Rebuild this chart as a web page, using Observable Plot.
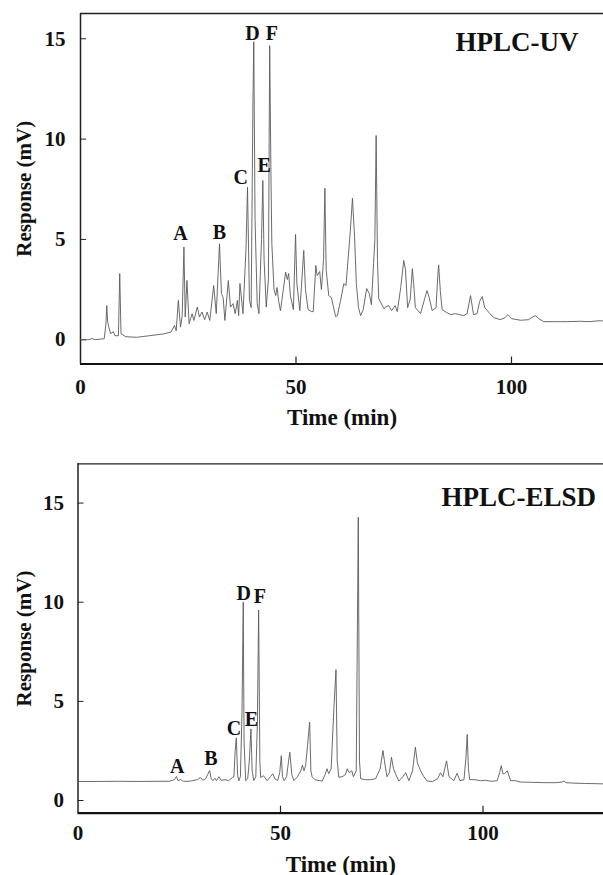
<!DOCTYPE html>
<html>
<head>
<meta charset="utf-8">
<script src="https://cdn.jsdelivr.net/npm/d3@7"></script>
<script src="https://cdn.jsdelivr.net/npm/@observablehq/plot@0.6"></script>
<style>
  html, body { margin: 0; padding: 0; background: white; }
  #chart svg { display: block; }
</style>
</head>
<body>
<div id="chart"></div>
<script>
// ---------- data ----------
const uvTime = [0,2,2.7,3.4,5.5,5.9,6.1,6.3,6.6,7.0,7.6,8.0,8.8,9.1,9.4,10.5,13,16,19.3,21.0,21.8,22.2,22.7,23.2,23.6,24.0,24.3,24.7,25.2,25.9,26.3,27.1,27.6,28.2,28.8,29.4,30.0,30.9,31.5,32.25,32.7,33.1,33.5,34.3,34.8,35.4,35.9,36.4,36.7,37.0,37.7,38.4,38.75,39.2,39.6,40.0,40.2,40.5,41.0,41.4,42.0,42.3,42.6,43.1,43.6,43.9,44.2,44.4,44.9,45.3,45.6,46.0,46.4,47.6,48.0,48.3,48.7,49.4,49.9,50.2,50.9,51.8,52.2,52.8,53.6,54.0,54.6,54.9,55.5,55.9,56.4,56.7,57.0,57.6,58.2,59.2,59.6,60.3,61.1,61.6,62.6,63.1,63.6,64.0,64.5,65.0,65.6,66.4,67.0,67.5,68.0,68.3,68.6,68.9,69.2,70.4,70.9,71.5,72.2,73.0,73.5,74.3,75.0,75.4,75.9,76.5,77.0,77.3,77.7,78.9,79.8,80.4,80.9,81.6,82.5,82.9,83.1,83.5,83.9,85.0,85.9,87.0,88.0,88.9,89.7,90.5,91.2,92.0,92.6,93.2,93.8,94.4,95.0,95.9,97.4,98.5,99.2,100.0,102.1,104.0,105.0,105.6,106.3,107.5,110,113,116,118,120.6,121.35];
const uvResp = [0,0,0.06,0,0.05,0.8,1.7,0.9,0.6,0.3,0.4,0.2,0.2,3.3,0.3,0.15,0.12,0.2,0.29,0.38,0.71,0.45,1.96,0.63,1.2,4.62,1.13,2.95,0.8,1.3,0.96,1.63,1.13,1.38,1.0,1.38,0.96,2.7,1.3,4.78,2.3,2.1,0.96,2.95,1.63,1.8,1.3,1.96,1.2,2.8,1.3,4.53,7.6,1.97,1.6,11.6,14.85,6.0,1.8,1.3,5.0,7.94,3.95,1.63,3.0,14.66,8.0,4.78,2.5,2.2,2.6,1.9,1.45,3.37,3.0,3.3,2.2,1.5,5.25,2.8,1.45,4.45,2.5,1.5,1.4,1.4,3.7,3.2,3.4,2.5,4.0,7.55,3.5,2.2,2.1,1.15,1.2,1.9,2.8,2.7,5.4,7.05,5.1,2.8,1.6,1.2,1.5,2.55,2.3,1.75,3.8,5.0,10.18,4.0,2.05,1.55,1.65,1.7,1.45,1.7,1.4,2.6,3.95,3.5,1.6,2.0,3.54,2.8,1.6,1.3,2.0,2.45,2.1,1.45,1.6,3.2,3.73,2.4,1.5,1.35,1.25,1.3,1.25,1.2,1.3,2.2,1.25,1.3,1.9,2.15,1.6,1.45,1.3,1.1,1.0,1.1,1.25,1.05,0.97,1.0,1.15,1.2,1.05,0.9,0.9,0.9,0.92,0.9,0.95,0.92];

const elsdTime = [0,5,10,15,20,22.5,23.8,24.3,24.7,25.3,26,27.5,29.5,30.2,30.8,31.5,32.0,32.5,32.9,33.3,33.8,34.2,34.8,35.3,36.3,37.2,38.1,38.5,38.8,39.1,39.4,39.7,40.1,40.5,40.8,41.0,41.4,41.9,42.3,42.7,43.0,43.4,43.9,44.3,44.6,44.9,45.1,45.8,46.7,47.5,48.1,48.6,49.3,49.8,50.2,50.5,50.9,51.5,52.0,52.3,52.8,53.3,54.2,55.0,55.4,55.8,56.2,56.7,57.2,57.5,57.8,58.5,59.5,60.3,61.0,61.5,61.9,62.5,63.2,63.7,64.0,64.4,65.2,66.0,66.5,67.0,67.6,68.0,68.7,69.2,69.5,69.8,71.0,72.2,73.5,74.6,75.3,75.8,76.3,76.9,77.4,77.9,78.5,79.2,80.2,80.9,81.7,82.6,83.3,83.8,84.6,85.4,86.2,87.5,88.8,89.5,90.1,91.0,91.6,92.8,93.6,94.3,95.3,95.8,96.1,96.4,96.7,98.0,99.4,100.6,102.0,103.5,104.1,104.5,104.9,105.3,106.0,106.8,108,109.3,112,115,118,119.5,120.0,120.5,122,125,129.75];
const elsdResp = [0.96,0.96,0.97,0.96,0.97,0.97,1.05,1.21,1.0,1.06,0.97,0.97,1.05,1.16,1.02,1.1,1.3,1.51,1.1,1.0,1.12,1.0,1.2,1.02,1.05,1.0,1.16,1.2,2.5,3.16,1.3,1.0,1.2,4.5,10.0,3.0,1.0,1.1,2.0,3.61,1.5,1.0,1.2,4.0,9.6,2.0,1.16,1.25,1.0,1.2,1.35,1.1,1.0,1.4,2.26,1.2,1.0,1.2,2.0,2.43,1.3,1.0,1.2,1.5,1.78,1.5,1.76,2.84,3.95,1.5,1.2,1.05,1.0,0.98,1.3,1.6,1.35,1.6,4.7,6.6,2.0,1.17,1.2,1.3,1.6,1.4,1.5,1.2,1.5,14.29,2.0,1.1,1.05,1.05,1.1,1.6,2.52,1.8,1.2,1.4,2.18,1.6,1.3,0.98,1.2,1.4,1.0,1.5,2.69,1.9,1.5,1.2,0.98,0.96,1.1,1.4,1.2,2.0,1.2,1.0,1.37,1.0,1.05,2.2,3.33,1.6,1.06,1.05,1.0,1.02,0.97,1.0,1.4,1.76,1.35,1.35,1.5,1.0,1.0,0.93,0.92,0.9,0.9,0.93,0.98,0.9,0.88,0.86,0.84];

const peakNames = ["A","B","C","D","E","F"];
const uvLabelTime = [23.2,32.25,37.2,39.9,42.6,44.4];
const uvLabelResp = [5.03,5.05,7.8,15.0,8.4,15.0];
const elsdLabelTime = [24.5,32.8,38.5,40.9,42.8,44.9];
const elsdLabelResp = [1.43,1.85,3.36,10.17,3.83,10.0];

const xTicks = [0, 50, 100];
const yTicks = [0, 5, 10, 15];
const xTitle = "Time (min)";
const yTitle = "Response (mV)";
const titles = ["HPLC-UV", "HPLC-ELSD"];

// ---------- drawing ----------
const SERIF = "'Liberation Serif', 'Times New Roman', 'DejaVu Serif', serif";
const zip = (xs, ys) => xs.map((x, i) => ({t: x, v: ys[i]}));

function chromatogram(cfg) {
  const series = zip(cfg.time, cfg.resp);
  const labels = peakNames.map((n, i) => ({n, t: cfg.labelTime[i], v: cfg.labelResp[i]}));
  const [x0, x1] = cfg.xDomain, [y0, y1] = cfg.yDomain;
  const plotW = cfg.width - cfg.marginLeft - cfg.marginRight;
  const plotH = cfg.height - cfg.marginTop - cfg.marginBottom;
  const txt = {fontFamily: SERIF, fontWeight: "bold", fill: "#111"};
  return Plot.plot({
    width: cfg.width, height: cfg.height,
    marginLeft: cfg.marginLeft, marginRight: cfg.marginRight,
    marginTop: cfg.marginTop, marginBottom: cfg.marginBottom,
    x: {domain: cfg.xDomain},
    y: {domain: cfg.yDomain},
    style: {fontFamily: SERIF, fontWeight: "bold", fontSize: "21px", color: "#111", background: "white", overflow: "visible"},
    marks: [
      // frame: top, left, bottom
      Plot.ruleY([y1], {stroke: "#222", strokeWidth: 1.3}),
      Plot.ruleX([x0], {stroke: "#222", strokeWidth: 1.5}),
      Plot.ruleY([y0], {stroke: "#111", strokeWidth: 2.2}),
      // inward ticks
      Plot.ruleY(yTicks, {y: d => d, x1: x0, x2: x1, insetRight: plotW - 6, stroke: "#222", strokeWidth: 1}),
      Plot.ruleX(xTicks.filter(d => d > 0), {x: d => d, y1: y1, y2: y0, insetTop: plotH - 7, stroke: "#222", strokeWidth: 1.2}),
      Plot.axisY({ticks: yTicks, tickSize: 0, tickPadding: cfg.yPad, label: null, fontSize: 21, ...txt}),
      Plot.axisX({ticks: xTicks, tickSize: 0, tickPadding: cfg.xPad, label: null, fontSize: 21, ...txt}),
      // trace
      Plot.line(series, {x: "t", y: "v", stroke: "#5a5a5a", strokeWidth: 0.9, curve: "linear"}),
      // peak letters
      Plot.text(labels, {x: "t", y: "v", text: "n", fontSize: 20, lineAnchor: "bottom", textAnchor: "middle", dy: 1, ...txt}),
      // titles
      Plot.text([cfg.title], {frameAnchor: "top-left", dx: cfg.titleDx, dy: cfg.titleDy, textAnchor: "start", lineAnchor: "middle", fontSize: 27, ...txt}),
      Plot.text([yTitle], {frameAnchor: "left", dx: cfg.yTitleDx, rotate: -90, textAnchor: "middle", lineAnchor: "middle", fontSize: 21, ...txt}),
      Plot.text([xTitle], {frameAnchor: "bottom", dy: cfg.xTitleDy, textAnchor: "middle", lineAnchor: "middle", fontSize: 23, ...txt})
    ]
  });
}

const chart = document.getElementById("chart");
chart.appendChild(chromatogram({
  time: uvTime, resp: uvResp, labelTime: uvLabelTime, labelResp: uvLabelResp,
  width: 603, height: 440, marginLeft: 80, marginRight: 0, marginTop: 13, marginBottom: 76.5,
  xDomain: [0, 121.35], yDomain: [-1.21, 16.26],
  yPad: 15, xPad: 15, title: titles[0], titleDx: 375, titleDy: 28.4, yTitleDx: -56, xTitleDy: 53.5
}));
chart.appendChild(chromatogram({
  time: elsdTime, resp: elsdResp, labelTime: elsdLabelTime, labelResp: elsdLabelResp,
  width: 603, height: 435, marginLeft: 77.5, marginRight: 0, marginTop: 23.3, marginBottom: 62.3,
  xDomain: [0, 129.75], yDomain: [-0.64, 16.98],
  yPad: 14, xPad: 12, title: titles[1], titleDx: 363.5, titleDy: 33.1, yTitleDx: -53.5, xTitleDy: 51
}));
</script>
</body>
</html>
